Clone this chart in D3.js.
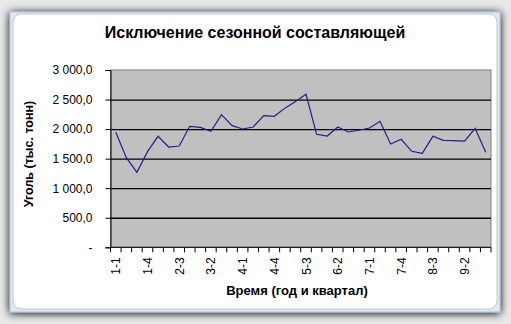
<!DOCTYPE html>
<html>
<head>
<meta charset="utf-8">
<script src="https://cdn.jsdelivr.net/npm/d3@7"></script>
<style>
  body { margin: 0; background: #fff; }
  svg { display: block; font-family: Arial, "Liberation Sans", sans-serif; }
</style>
</head>
<body>
<svg id="chart" width="511" height="324"></svg>
<script>
// data: quarters "year-quarter" and seasonally adjusted coal values
const years = [1, 2, 3, 4, 5, 6, 7, 8, 9];
const quarters = [1, 2, 3, 4];
const categories = years.flatMap((y) => quarters.map((q) => `${y}-${q}`));
const values = [
  1946, 1516, 1269, 1618, 1878, 1697, 1714, 2047, 2030, 1963, 2244, 2058,
  2002, 2035, 2227, 2216, 2355, 2468, 2589, 1912, 1883, 2035, 1951, 1980,
  2019, 2132, 1748, 1827, 1624, 1590, 1878, 1810, 1804, 1798, 2013, 1607
];
const yTicks = [0, 500, 1000, 1500, 2000, 2500, 3000];
const shownLabels = ["1-1", "1-4", "2-3", "3-2", "4-1", "4-4", "5-3", "6-2", "7-1", "7-4", "8-3", "9-2"];

const svg = d3.select("#chart");
const width = +svg.attr("width");
const height = +svg.attr("height");

// outer frame with soft shadow
const defs = svg.append("defs");
const shadow = defs.append("filter").attr("id", "shadow").attr("x", "-5%").attr("y", "-5%").attr("width", "110%").attr("height", "110%");
shadow.append("feGaussianBlur").attr("in", "SourceAlpha").attr("stdDeviation", 4);
shadow.append("feOffset").attr("dx", 0).attr("dy", 1).attr("result", "blur");
const merge = shadow.append("feMerge");
merge.append("feMergeNode").attr("in", "blur");
merge.append("feMergeNode").attr("in", "SourceGraphic");

svg.append("rect").attr("width", width).attr("height", height).attr("fill", "#e8e8e8");
svg.append("rect")
  .attr("x", 10).attr("y", 12).attr("width", 490).attr("height", 300)
  .attr("fill", "#dfe9f5").attr("stroke", "#a9c0dc").attr("filter", "url(#shadow)");
svg.append("rect")
  .attr("x", 13).attr("y", 14).attr("width", 484).attr("height", 295)
  .attr("rx", 8).attr("fill", "#fff").attr("stroke", "#c8c8c8");

const margin = { top: 70, right: 20, bottom: 77, left: 110.5 };
const innerWidth = 491 - margin.left;
const innerHeight = 247.3 - margin.top;

const xScale = d3.scaleBand().domain(categories).range([0, innerWidth]);
const yScale = d3.scaleLinear().domain([0, 3000]).range([innerHeight, 0]);

const g = svg.append("g").attr("transform", `translate(${margin.left},${margin.top})`);

// plot area
g.append("rect")
  .attr("width", innerWidth).attr("height", innerHeight)
  .attr("fill", "#c0c0c0").attr("stroke", "#808080");

// gridlines
const yAxis = d3.axisLeft(yScale)
  .tickValues(yTicks)
  .tickSize(-innerWidth)
  .tickPadding(18)
  .tickFormat((d) => d === 0 ? "-" : d3.format(",.1f")(d).replace(",", "\u00a0").replace(".", ","));
const yAxisG = g.append("g").call(yAxis);
yAxisG.select(".domain").remove();
yAxisG.selectAll(".tick line").attr("stroke", "#000").attr("stroke-width", 1.3);
yAxisG.selectAll(".tick text").attr("font-size", 12).attr("fill", "#000");
yAxisG.selectAll(".tick")
  .filter((d) => d === 0 || d === 3000)
  .select("line").remove();

// left axis line with small outer ticks
const yOuter = d3.axisLeft(yScale).tickValues(yTicks).tickSize(5).tickFormat("");
g.append("g").call(yOuter).selectAll("path, line").attr("stroke", "#000");

// bottom axis: ticks between categories
const xAxisG = g.append("g").attr("transform", `translate(0,${innerHeight})`);
xAxisG.append("line").attr("x1", 0).attr("x2", innerWidth).attr("stroke", "#000");
xAxisG.selectAll("line.tk")
  .data(d3.range(categories.length + 1))
  .enter()
  .append("line")
  .attr("class", "tk")
  .attr("x1", (i) => i * xScale.step())
  .attr("x2", (i) => i * xScale.step())
  .attr("y2", 5)
  .attr("stroke", "#000");
xAxisG.selectAll("text")
  .data(shownLabels)
  .enter()
  .append("text")
  .attr("transform", (d) => `translate(${xScale(d) + xScale.bandwidth() / 2 + 4.5},10) rotate(-90)`)
  .attr("text-anchor", "end")
  .attr("font-size", 12)
  .attr("fill", "#000")
  .text((d) => d);

// series line
const line = d3.line()
  .x((d, i) => xScale(categories[i]) + xScale.bandwidth() / 2)
  .y((d) => yScale(d));
g.append("path")
  .attr("d", line(values))
  .attr("fill", "none")
  .attr("stroke", "#1f1f8f")
  .attr("stroke-width", 1.2);

// titles
svg.append("text")
  .attr("x", 255).attr("y", 38)
  .attr("text-anchor", "middle")
  .attr("font-size", 16).attr("font-weight", "bold")
  .text("Исключение сезонной составляющей");

svg.append("text")
  .attr("x", 297).attr("y", 295)
  .attr("text-anchor", "middle")
  .attr("font-size", 13).attr("font-weight", "bold")
  .text("Время (год и квартал)");

svg.append("text")
  .attr("transform", "translate(33,154) rotate(-90)")
  .attr("text-anchor", "middle")
  .attr("font-size", 12.5).attr("font-weight", "bold")
  .text("Уголь (тыс. тонн)");
</script>
</body>
</html>
